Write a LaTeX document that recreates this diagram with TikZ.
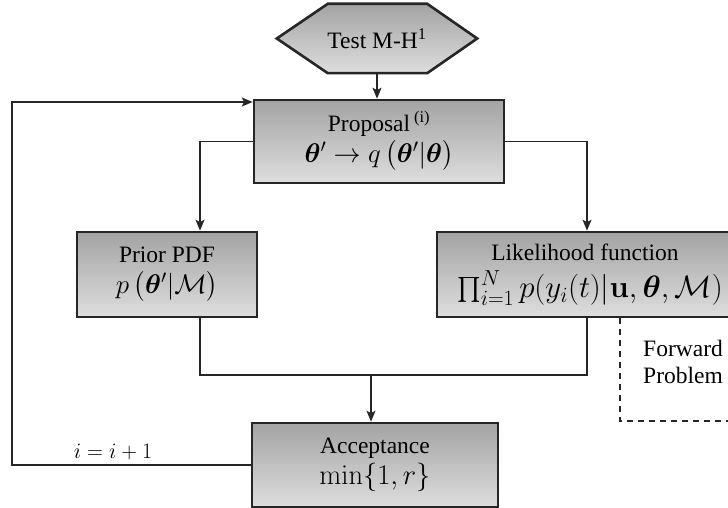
\RequirePackage{fix-cm}
\documentclass[tikz,border=0pt]{standalone}
\usepackage{amsmath}
\usepackage{bm}
\usepackage[no-math]{fontspec}
\setmainfont{Liberation Serif}
\usetikzlibrary{arrows.meta,calc}

% formula line of a box, set at a given size
\newcommand{\boxmath}[2]{{\fontsize{#1}{30}\selectfont$#2$}}
% parentheses one step taller than the default
\newcommand{\tallpar}[1]{\left(\vphantom{\big(}#1\right)}

\tikzset{
  box/.style={draw=black!85, line width=2.6pt, top color=black!36, bottom color=black!13,
    align=center, inner sep=0pt, font=\fontsize{23.5}{31}\selectfont},
  link/.style={draw=black!85, line width=1.5pt},
  arr/.style={link, -{Stealth[length=11pt,width=9pt,inset=2.5pt]}},
  dashline/.style={draw=black!85, line width=1.5pt, dash pattern=on 6pt off 5pt},
  plain/.style={inner sep=0pt, font=\fontsize{23.5}{30}\selectfont}
}

\begin{document}
\begin{tikzpicture}[x=1pt, y=-1pt]
\useasboundingbox (0,0) rectangle (728,508);

% start symbol: elongated hexagon
\node[plain, minimum width=200pt, minimum height=69pt] (hex) at (377,38.5) {};
\path[draw=black!85, line width=2.6pt, top color=black!36, bottom color=black!13]
  (hex.west) -- ([xshift=51pt]hex.north west) -- ([xshift=-50pt]hex.north east)
  -- (hex.east) -- ([xshift=-50pt]hex.south east) -- ([xshift=51pt]hex.south west) -- cycle;
\node[plain] at (hex.center) {Test M-H\textsuperscript{1}};

% process boxes
\node[box, minimum width=250pt, minimum height=83pt] (prop) at (379,141.5)
  {Proposal\,\textsuperscript{(i)}\\
   \boxmath{27}{\bm{\theta}' \rightarrow q\tallpar{\bm{\theta}'|\bm{\theta}}}};
\node[box, minimum width=180pt, minimum height=85pt] (prior) at (167,274.5)
  {Prior PDF\\ \boxmath{27}{p\tallpar{\bm{\theta}'|\mathcal{M}}}};
\node[box, minimum width=296pt, minimum height=85pt] (like) at (585,274.5)
  {Likelihood function\\[6pt]
   \hspace*{10pt}\boxmath{31}{\prod_{i=1}^{N} p(y_i(t)|\mathbf{u},\bm{\theta},\mathcal{M})}};
\node[box, minimum width=246pt, minimum height=84pt] (acc) at (375,465)
  {Acceptance\\ \boxmath{28.5}{\min\{1,r\}}};

% helper points for the routing
\coordinate (merge) at (371,375);
\coordinate (loop) at (12,102);
\coordinate (dcorner) at (620,421);
\coordinate (dend) at (740,421);

% connectors
\draw[arr] (hex.south) -- (hex.south |- prop.north);
\draw[arr] (prop.west) -| ([xshift=33pt]prior.north);
\draw[arr] (prop.east) -| ([xshift=2pt]like.north);
\draw[link] ([xshift=33pt]prior.south) |- (merge) -| ([xshift=2pt]like.south);
\draw[arr] (merge) -- (merge |- acc.north);
\draw[arr] (acc.west) -| (loop) -- (loop -| prop.west);
\node[plain, anchor=base, font=\fontsize{22}{26}\selectfont] at (113,458) {$i=i+1$};

% forward problem region
\draw[dashline] (dcorner |- like.south) -- (dcorner) -- (dend);
\node[plain, anchor=base west] at (643,356) {Forward};
\node[plain, anchor=base west] at (643,383) {Problem};
\end{tikzpicture}
\end{document}
